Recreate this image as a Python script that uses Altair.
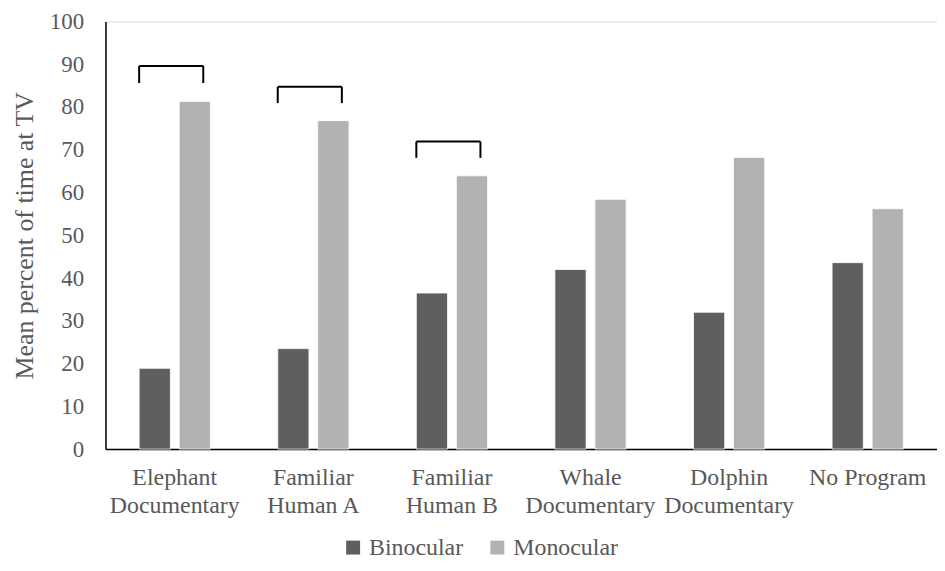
import altair as alt
import pandas as pd

categories = ["Elephant|Documentary", "Familiar|Human A", "Familiar|Human B",
              "Whale|Documentary", "Dolphin|Documentary", "No Program"]
series = ["Binocular", "Monocular"]
binocular = [18.9, 23.5, 36.5, 42.0, 32.0, 43.6]
monocular = [81.3, 76.8, 63.9, 58.4, 68.2, 56.2]
colors = ["#5f5f5f", "#b2b2b2"]

bracket_cats = categories[:3]
bracket_top = [89.6, 84.7, 71.9]
bracket_bottom = [85.6, 80.9, 68.1]

y_ticks = list(range(0, 101, 10))

rows = []
for c, b, m in zip(categories, binocular, monocular):
    rows.append({"cat": c, "series": "Binocular", "value": b})
    rows.append({"cat": c, "series": "Monocular", "value": m})
df = pd.DataFrame(rows)

br = pd.DataFrame({"cat": bracket_cats, "top": bracket_top, "bottom": bracket_bottom})

FONT = "Liberation Serif"
GREY = "#595959"

xscale = alt.Scale(domain=categories, paddingInner=0.486, paddingOuter=0.243)
yscale = alt.Scale(domain=[0, 100])

bars = alt.Chart(df).mark_bar(stroke="#ffffff", strokeWidth=0.8).encode(
    x=alt.X("cat:N", scale=xscale, sort=categories,
            axis=alt.Axis(title=None, labelAngle=0, labelExpr="split(datum.label, '|')",
                          labelFontSize=24, labelLineHeight=28, labelPadding=17,
                          ticks=False, domainColor="#000000", domainWidth=1.5,
                          labelColor=GREY, labelFont=FONT)),
    xOffset=alt.XOffset("series:N", scale=alt.Scale(domain=series, paddingInner=0.22)),
    y=alt.Y("value:Q", scale=yscale,
            axis=alt.Axis(title="Mean percent of time at TV", values=y_ticks, grid=False,
                          ticks=False, domainColor="#000000", domainWidth=1.5,
                          labelFontSize=23, labelColor=GREY, labelFont=FONT,
                          labelPadding=22, titleFontSize=26, titleFont=FONT,
                          titleColor=GREY, titleFontWeight="normal", titlePadding=12)),
    color=alt.Color("series:N", scale=alt.Scale(domain=series, range=colors),
                    legend=alt.Legend(title=None, orient="none", legendX=237, legendY=517,
                                      direction="horizontal", symbolType="square",
                                      symbolSize=196, symbolStrokeWidth=0,
                                      labelFontSize=24, labelFont=FONT, labelColor=GREY,
                                      columnPadding=22, labelOffset=4)),
)

top_rule = alt.Chart(br).mark_rule(color="#000000", strokeWidth=2).encode(
    x=alt.X("cat:N", bandPosition=0, scale=xscale, sort=categories),
    x2=alt.X2("cat", bandPosition=0.9),
    y=alt.Y("top:Q", scale=yscale),
)
left_leg = alt.Chart(br).mark_rule(color="#000000", strokeWidth=2).encode(
    x=alt.X("cat:N", bandPosition=0, scale=xscale, sort=categories),
    y=alt.Y("top:Q", scale=yscale),
    y2="bottom:Q",
)
right_leg = alt.Chart(br).mark_rule(color="#000000", strokeWidth=2).encode(
    x=alt.X("cat:N", bandPosition=0.9, scale=xscale, sort=categories),
    y=alt.Y("top:Q", scale=yscale),
    y2="bottom:Q",
)

chart = alt.layer(bars, top_rule, left_leg, right_leg).properties(
    width=836, height=430,
    autosize=alt.AutoSizeParams(type="none"),
    padding={"left": 98, "top": 12, "right": 0, "bottom": 113},
).configure_view(stroke=None).configure(background="#ffffff")

chart.save("out.html", embed_options={"renderer": "svg", "actions": False})
